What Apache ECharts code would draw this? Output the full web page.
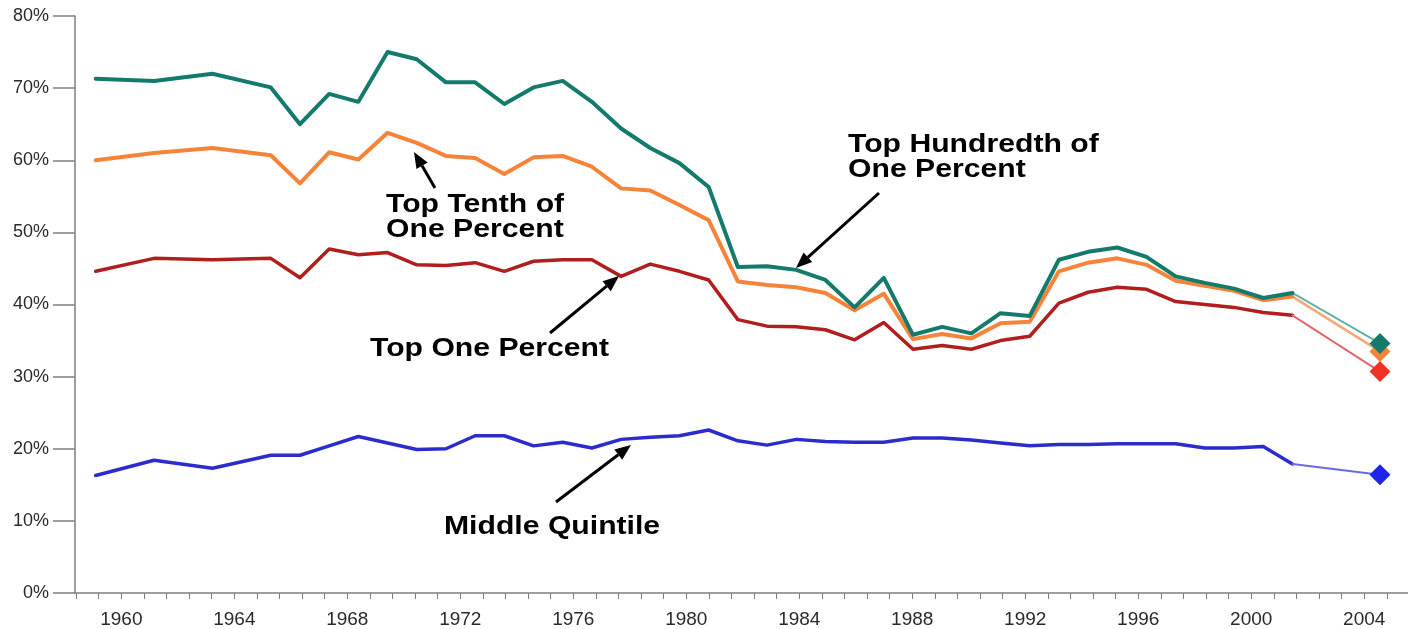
<!DOCTYPE html>
<html>
<head>
<meta charset="utf-8">
<script src="https://cdn.jsdelivr.net/npm/echarts@6/dist/echarts.min.js"></script>
<style>
html,body{margin:0;padding:0;background:#fff;}
#chart{width:1408px;height:629px;}
</style>
</head>
<body>
<div id="chart"></div>
<script>
// ---- data ----
const years = [1960,1962,1964,1966,1967,1968,1969,1970,1971,1972,1973,1974,1975,1976,1977,1978,1979,1980,1981,1982,1983,1984,1985,1986,1987,1988,1989,1990,1991,1992,1993,1994,1995,1996,1997,1998,1999,2000,2001];
const topHundredthOfOnePct = [71.3,71.0,72.0,70.1,65.0,69.2,68.1,75.0,74.0,70.8,70.8,67.8,70.1,71.0,68.1,64.4,61.7,59.6,56.3,45.2,45.3,44.8,43.4,39.6,43.7,35.8,36.9,36.0,38.8,38.4,46.2,47.3,47.9,46.6,43.9,43.0,42.2,40.9,41.6];
const topTenthOfOnePct = [60.0,61.0,61.7,60.7,56.8,61.1,60.1,63.8,62.4,60.6,60.3,58.1,60.4,60.6,59.1,56.1,55.8,53.8,51.7,43.2,42.7,42.4,41.6,39.2,41.5,35.2,35.9,35.3,37.4,37.6,44.6,45.8,46.4,45.5,43.3,42.6,41.9,40.6,41.1];
const topOnePct = [44.6,46.4,46.2,46.4,43.7,47.7,46.9,47.2,45.5,45.4,45.8,44.6,46.0,46.2,46.2,43.9,45.6,44.6,43.4,37.9,37.0,36.9,36.5,35.1,37.5,33.8,34.3,33.8,35.0,35.6,40.2,41.7,42.4,42.1,40.4,40.0,39.6,38.9,38.5];
const middleQuintile = [16.3,18.4,17.3,19.1,19.1,20.4,21.7,20.8,19.9,20.0,21.8,21.8,20.4,20.9,20.1,21.3,21.6,21.8,22.6,21.1,20.5,21.3,21.0,20.9,20.9,21.5,21.5,21.2,20.8,20.4,20.6,20.6,20.7,20.7,20.7,20.1,20.1,20.3,17.9];
// projected 2004 values (diamonds)
const projYear = 2004;
const proj2004 = {hundredth: 34.6, tenth: 33.5, one: 30.7, middle: 16.4};
// axis tick labels
const xLabelYears = [1960,1964,1968,1972,1976,1980,1984,1988,1992,1996,2000,2004];

// ---- styling ----
const C = {
  hundredth: '#137a6c', hundredthL: '#62b2aa',
  tenth: '#f5843a', tenthL: '#f5a775',
  one: '#b01e1e', oneL: '#e2686a', oneD: '#ee3326',
  middle: '#2a2ccc', middleL: '#6a6ae6', middleD: '#1e24e8'
};
const axisGray = '#808080';
const labelFont = '"Liberation Sans", Arial, sans-serif';

function mainSeries(name, vals, color, width, z) {
  return {
    type: 'line', name: name, xAxisIndex: 1, yAxisIndex: 0,
    data: years.map((y, i) => [y, vals[i]]),
    showSymbol: false, symbol: 'none', z: z, silent: true,
    lineStyle: {color: color, width: width, cap: 'round', join: 'round'}
  };
}
function projSeries(name, last, proj, lineColor, dotColor, width, z) {
  return {
    type: 'line', name: name + ' proj', xAxisIndex: 1, yAxisIndex: 0, z: z, silent: true,
    showSymbol: true,
    data: [
      {value: [years[years.length - 1], last], symbol: 'none'},
      {value: [projYear, proj], symbol: 'diamond', symbolSize: 21, itemStyle: {color: dotColor}}
    ],
    lineStyle: {color: lineColor, width: width, cap: 'round'}
  };
}

const tickValues = [];
for (let k = 0; k <= 59; k++) { const v = +(1958.4 + 0.8 * k).toFixed(1); if (v <= 2005.55) tickValues.push(v); }

// arrows (annotation layout)
function arrow(x1, y1, x2, y2) {
  const ang = Math.atan2(y2 - y1, x2 - x1);
  const L = 16, W = 6.5;
  const bx = x2 - L * Math.cos(ang), by = y2 - L * Math.sin(ang);
  const px = -Math.sin(ang) * W, py = Math.cos(ang) * W;
  return [
    {type: 'line', shape: {x1: x1, y1: y1, x2: bx, y2: by}, style: {stroke: '#000', lineWidth: 3}, z: 100},
    {type: 'polygon', shape: {points: [[x2, y2], [bx + px, by + py], [bx - px, by - py]]}, style: {fill: '#000'}, z: 100}
  ];
}
const annFont = 'bold 26px "Liberation Sans", Arial, sans-serif';
function ann(text, x, y) {
  return {type: 'text', x: x, y: y, scaleX: 1.16, z: 100,
    style: {text: text, font: annFont, fill: '#000', lineHeight: 25, align: 'left', verticalAlign: 'top'}};
}

const chart = echarts.init(document.getElementById('chart'), null, {renderer: 'canvas'});
chart.setOption({
  animation: false,
  backgroundColor: '#fff',
  grid: {left: 75, right: 0, top: 16, bottom: 36, containLabel: false},
  xAxis: [
    {
      type: 'value', min: 1958.36, max: 2005.55, position: 'bottom',
      axisLine: {show: true, lineStyle: {color: axisGray, width: 1.5}},
      axisTick: {show: true, customValues: tickValues, length: 6, lineStyle: {color: axisGray, width: 1}},
      axisLabel: {show: true, customValues: xLabelYears, margin: 17, fontSize: 19, color: '#2a2a2a', fontFamily: labelFont,
        formatter: v => String(Math.round(v))},
      splitLine: {show: false}
    },
    {
      type: 'value', min: 1959.292, max: 2004.959, show: false,
      axisLine: {show: false}, axisTick: {show: false}, axisLabel: {show: false}, splitLine: {show: false}
    }
  ],
  yAxis: {
    type: 'value', min: 0, max: 80, interval: 10,
    axisLine: {show: true, lineStyle: {color: axisGray, width: 1.5}},
    axisTick: {show: true, length: 22, lineStyle: {color: axisGray, width: 1.5}},
    axisLabel: {margin: 26, fontSize: 18, color: '#2a2a2a', fontFamily: labelFont, formatter: '{value}%'},
    splitLine: {show: false}
  },
  series: [
    mainSeries('Middle Quintile', middleQuintile, C.middle, 3.5, 2),
    projSeries('Middle Quintile', middleQuintile[middleQuintile.length - 1], proj2004.middle, C.middleL, C.middleD, 2, 2),
    mainSeries('Top One Percent', topOnePct, C.one, 3.5, 3),
    projSeries('Top One Percent', topOnePct[topOnePct.length - 1], proj2004.one, C.oneL, C.oneD, 2, 3),
    projSeries('Top Tenth of One Percent', topTenthOfOnePct[topTenthOfOnePct.length - 1], proj2004.tenth, C.tenthL, C.tenth, 2.5, 4),
    mainSeries('Top Tenth of One Percent', topTenthOfOnePct, C.tenth, 4, 4),
    projSeries('Top Hundredth of One Percent', topHundredthOfOnePct[topHundredthOfOnePct.length - 1], proj2004.hundredth, C.hundredthL, C.hundredth, 2, 5),
    mainSeries('Top Hundredth of One Percent', topHundredthOfOnePct, C.hundredth, 4, 5)
  ],
  graphic: [
    ann('Top Hundredth of\nOne Percent', 848, 132),
    ann('Top Tenth of\nOne Percent', 386, 192),
    ann('Top One Percent', 370, 336),
    ann('Middle Quintile', 444, 514),
    ...arrow(879, 193, 796, 268),
    ...arrow(435, 188, 414, 152),
    ...arrow(550, 333, 619, 276),
    ...arrow(556, 502, 631, 445)
  ]
});
</script>
</body>
</html>
